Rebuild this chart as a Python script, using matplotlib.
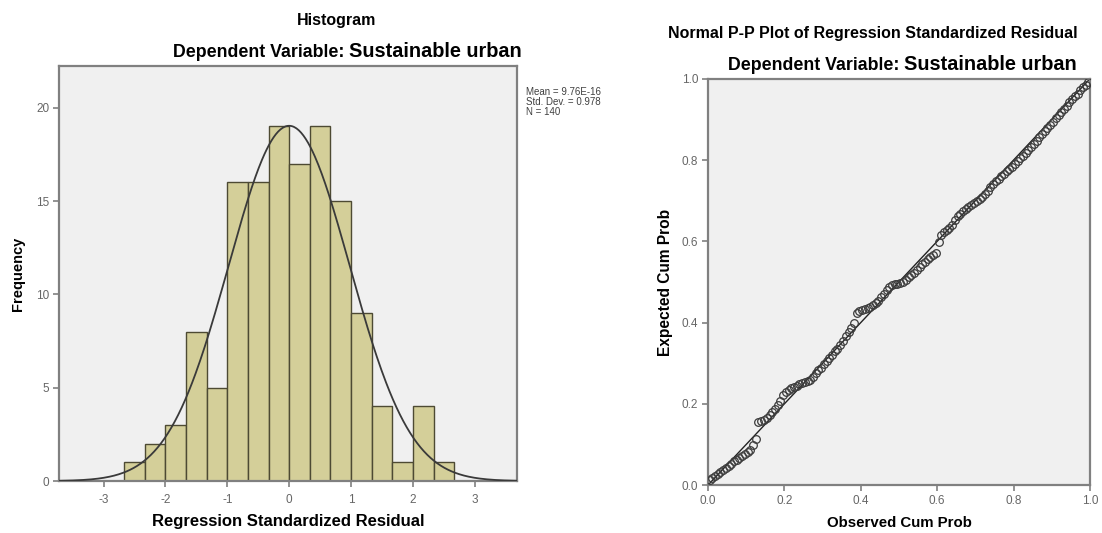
import numpy as np
import matplotlib
matplotlib.use("Agg")
import matplotlib.pyplot as plt

plt.rcParams['font.family'] = ['Liberation Sans', 'DejaVu Sans']
plt.rcParams['axes.unicode_minus'] = False

# histogram of regression standardized residuals
bin_edges = [-8/3, -7/3, -2, -5/3, -4/3, -1, -2/3, -1/3, 0,
             1/3, 2/3, 1, 4/3, 5/3, 2, 7/3, 8/3]
counts = [1, 2, 3, 8, 5, 16, 16, 19, 17, 19, 15, 9, 4, 1, 4, 1]
res_mean = 9.76e-16
res_sd = 0.978
n_obs = 140

# normal P-P plot points (observed vs expected cumulative probability)
obs_cum = [0.004, 0.011, 0.018, 0.025, 0.032, 0.039, 0.046, 0.054, 0.061, 0.068,
           0.075, 0.082, 0.089, 0.096, 0.104, 0.111, 0.118, 0.125, 0.132, 0.139,
           0.146, 0.154, 0.161, 0.168, 0.175, 0.182, 0.189, 0.196, 0.204, 0.211,
           0.218, 0.225, 0.232, 0.239, 0.246, 0.254, 0.261, 0.268, 0.275, 0.282,
           0.289, 0.296, 0.304, 0.311, 0.318, 0.325, 0.332, 0.339, 0.346, 0.354,
           0.361, 0.368, 0.375, 0.382, 0.389, 0.396, 0.404, 0.411, 0.418, 0.425,
           0.432, 0.439, 0.446, 0.454, 0.461, 0.468, 0.475, 0.482, 0.489, 0.496,
           0.504, 0.511, 0.518, 0.525, 0.532, 0.539, 0.546, 0.554, 0.561, 0.568,
           0.575, 0.582, 0.589, 0.596, 0.604, 0.611, 0.618, 0.625, 0.632, 0.639,
           0.646, 0.654, 0.661, 0.668, 0.675, 0.682, 0.689, 0.696, 0.704, 0.711,
           0.718, 0.725, 0.732, 0.739, 0.746, 0.754, 0.761, 0.768, 0.775, 0.782,
           0.789, 0.796, 0.804, 0.811, 0.818, 0.825, 0.832, 0.839, 0.846, 0.854,
           0.861, 0.868, 0.875, 0.882, 0.889, 0.896, 0.904, 0.911, 0.918, 0.925,
           0.932, 0.939, 0.946, 0.954, 0.961, 0.968, 0.975, 0.982, 0.989, 0.996]
exp_cum = [0.012, 0.017, 0.022, 0.027, 0.032, 0.037, 0.041, 0.047, 0.053, 0.058,
           0.061, 0.066, 0.071, 0.076, 0.082, 0.086, 0.098, 0.113, 0.154, 0.157,
           0.159, 0.166, 0.172, 0.179, 0.187, 0.196, 0.207, 0.222, 0.229, 0.234,
           0.238, 0.242, 0.245, 0.248, 0.251, 0.253, 0.255, 0.258, 0.266, 0.275,
           0.282, 0.289, 0.297, 0.305, 0.314, 0.321, 0.329, 0.336, 0.344, 0.354,
           0.366, 0.376, 0.386, 0.398, 0.424, 0.428, 0.431, 0.433, 0.436, 0.439,
           0.443, 0.448, 0.454, 0.462, 0.471, 0.480, 0.488, 0.492, 0.494, 0.495,
           0.497, 0.501, 0.506, 0.512, 0.518, 0.523, 0.530, 0.537, 0.544, 0.550,
           0.556, 0.561, 0.566, 0.572, 0.598, 0.616, 0.622, 0.628, 0.634, 0.640,
           0.652, 0.662, 0.668, 0.674, 0.680, 0.685, 0.690, 0.695, 0.700, 0.705,
           0.710, 0.717, 0.725, 0.733, 0.740, 0.748, 0.754, 0.760, 0.766, 0.772,
           0.777, 0.783, 0.790, 0.797, 0.804, 0.811, 0.818, 0.825, 0.833, 0.840,
           0.848, 0.857, 0.865, 0.872, 0.880, 0.887, 0.895, 0.903, 0.911, 0.919,
           0.926, 0.934, 0.942, 0.950, 0.957, 0.964, 0.972, 0.979, 0.986, 0.993]

bg = "#f0f0f0"
spine_col = "#808080"
tick_col = "#666666"

fig = plt.figure(figsize=(11.02, 5.33), dpi=100)

def style_axes(ax):
    ax.set_facecolor(bg)
    for s in ax.spines.values():
        s.set_color(spine_col)
        s.set_linewidth(1.6)
    ax.tick_params(direction="out", length=4, width=1.2, color=spine_col,
                   labelcolor=tick_col, labelsize=8.5, pad=3)

# histogram
ax1 = fig.add_axes([0.0535, 0.0975, 0.4155, 0.779])
style_axes(ax1)
widths = np.diff(bin_edges)
ax1.bar(bin_edges[:-1], counts, width=widths, align="edge",
        color="#d4cf99", edgecolor="#4d4a33", linewidth=1.0, zorder=2)
xs = np.linspace(-3.72, 3.68, 400)
pdf = np.exp(-0.5 * ((xs - res_mean) / res_sd) ** 2) / (res_sd * np.sqrt(2 * np.pi))
ax1.plot(xs, n_obs * (1/3) * pdf, color="#3a3a3a", linewidth=1.3, zorder=3)
ax1.set_xlim(-3.72, 3.68)
ax1.set_ylim(0, 22.25)
ax1.set_xticks([-3, -2, -1, 0, 1, 2, 3])
ax1.set_yticks([0, 5, 10, 15, 20])
ax1.tick_params(axis="x", pad=5)
ax1.set_xlabel("Regression Standardized Residual", fontsize=12,
               fontweight="bold", labelpad=6)
ax1.set_ylabel("Frequency", fontsize=10.5, fontweight="bold", labelpad=8)
fig.text(0.305, 0.962, "Histogram", ha="center", va="center",
         fontsize=11.5, fontweight="bold")
fig.text(0.477, 0.836, "Mean = 9.76E-16\nStd. Dev. = 0.978\nN = 140",
         ha="left", va="top", fontsize=7, color="#404040", linespacing=1.0)

# left subtitle, two font sizes side by side
l1 = fig.text(0.157, 0.893, "Dependent Variable:", ha="left", va="baseline",
              fontsize=12.8, fontweight="bold")
ax1.annotate("Sustainable urban", xy=(1, 0), xycoords=l1,
             xytext=(3, 0), textcoords="offset points", ha="left", va="bottom",
             fontsize=14.3, fontweight="bold", annotation_clip=False)

# P-P plot
ax2 = fig.add_axes([0.6425, 0.09, 0.3465, 0.762])
style_axes(ax2)
ax2.plot([0, 1], [0, 1], color="#222222", linewidth=1.0, zorder=2)
ax2.plot(obs_cum, exp_cum, linestyle="none", marker="o", markersize=5.5,
         markerfacecolor="none", markeredgecolor="#3c3c3c",
         markeredgewidth=0.9, zorder=3)
ax2.set_xlim(0, 1)
ax2.set_ylim(0, 1)
ticks = [0.0, 0.2, 0.4, 0.6, 0.8, 1.0]
tick_labels = ["0.0", "0.2", "0.4", "0.6", "0.8", "1.0"]
ax2.set_xticks(ticks)
ax2.set_yticks(ticks)
ax2.set_xticklabels(tick_labels)
ax2.set_yticklabels(tick_labels)
ax2.set_xlabel("Observed Cum Prob", fontsize=10.8, fontweight="bold", labelpad=7)
ax2.set_ylabel("Expected Cum Prob", fontsize=11.2, fontweight="bold", labelpad=6)
fig.text(0.978, 0.938, "Normal P-P Plot of Regression Standardized Residual",
         ha="right", va="center", fontsize=11.5, fontweight="bold")

r1 = fig.text(0.661, 0.869, "Dependent Variable:", ha="left", va="baseline",
              fontsize=12.8, fontweight="bold")
ax2.annotate("Sustainable urban", xy=(1, 0), xycoords=r1,
             xytext=(3, 0), textcoords="offset points", ha="left", va="bottom",
             fontsize=14.3, fontweight="bold", annotation_clip=False)

fig.savefig("out.png", dpi=100)
